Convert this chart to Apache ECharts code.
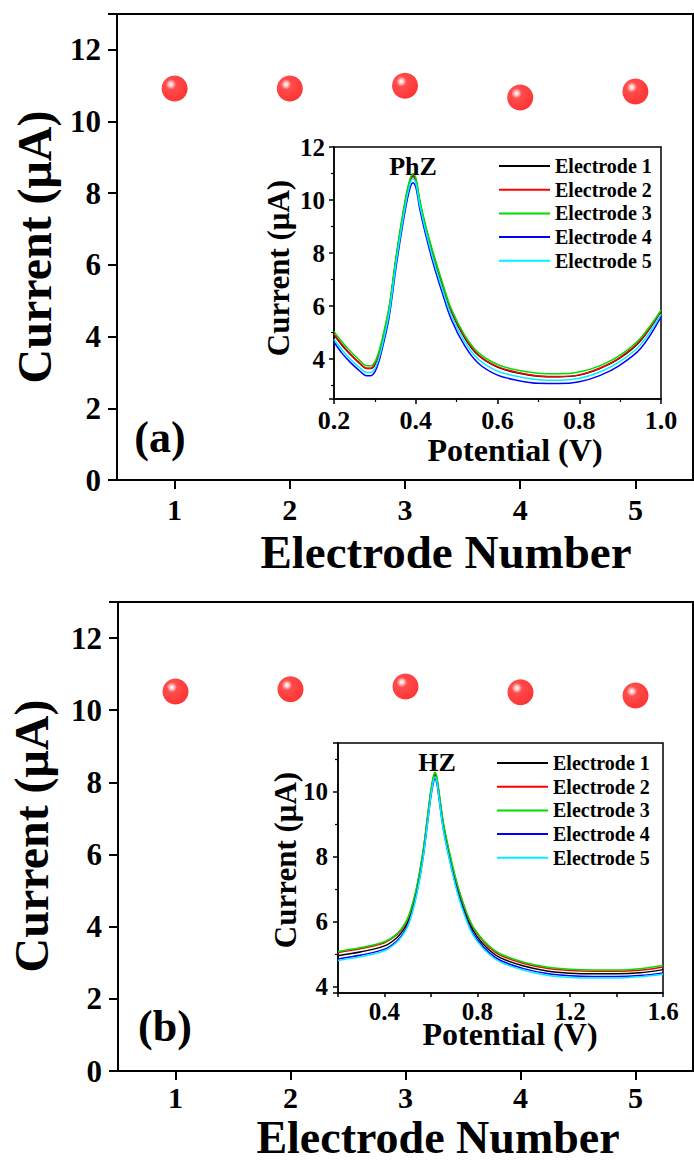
<!DOCTYPE html>
<html>
<head>
<meta charset="utf-8">
<script src="https://cdn.jsdelivr.net/npm/echarts@6/dist/echarts.min.js"></script>
<style>html,body{margin:0;padding:0;background:#fff;}#c{width:694px;height:1161px;}</style>
</head>
<body>
<div id="c"></div>
<script>
// ---- data ----
const electrodes = ['1', '2', '3', '4', '5'];
const peakCurrentA = [10.92, 10.92, 11.0, 10.67, 10.84];   // PhZ
const peakCurrentB = [10.52, 10.58, 10.66, 10.5, 10.41];   // HZ

const seriesNames = ['Electrode 1', 'Electrode 2', 'Electrode 3', 'Electrode 4', 'Electrode 5'];
const seriesColors = ['#000000', '#ff0000', '#00dd00', '#0000ff', '#00f0ff'];

// inset (a) PhZ
const potentialA = [0.20, 0.22, 0.24, 0.26, 0.28, 0.29, 0.30, 0.31, 0.32, 0.335, 0.353, 0.374, 0.385, 0.393, 0.40, 0.41, 0.425, 0.443, 0.465, 0.487, 0.52, 0.553, 0.60, 0.65, 0.70, 0.75, 0.80, 0.85, 0.90, 0.95, 1.00];
const phzE1 = [4.92, 4.52, 4.18, 3.88, 3.65, 3.65, 3.80, 4.20, 4.80, 5.90, 7.90, 9.90, 10.65, 10.90, 10.75, 9.90, 8.90, 7.90, 6.80, 5.80, 4.80, 4.15, 3.70, 3.48, 3.36, 3.34, 3.40, 3.65, 4.05, 4.70, 5.80];
const phzE2 = [4.95, 4.55, 4.20, 3.90, 3.66, 3.66, 3.82, 4.22, 4.82, 5.92, 7.92, 9.92, 10.68, 10.93, 10.78, 9.93, 8.93, 7.93, 6.83, 5.83, 4.83, 4.17, 3.72, 3.50, 3.37, 3.35, 3.41, 3.66, 4.07, 4.72, 5.82];
const phzE3 = [5.05, 4.65, 4.30, 4.00, 3.75, 3.75, 3.90, 4.30, 4.90, 6.00, 8.00, 10.00, 10.75, 11.00, 10.85, 10.00, 9.00, 8.00, 6.90, 5.90, 4.90, 4.25, 3.80, 3.58, 3.47, 3.45, 3.52, 3.75, 4.15, 4.80, 5.85];
const phzE4 = [4.65, 4.22, 3.88, 3.60, 3.38, 3.38, 3.52, 3.92, 4.52, 5.60, 7.60, 9.60, 10.40, 10.65, 10.50, 9.65, 8.65, 7.60, 6.50, 5.50, 4.50, 3.85, 3.40, 3.20, 3.09, 3.08, 3.15, 3.38, 3.78, 4.40, 5.60];
const phzE5 = [4.75, 4.35, 4.00, 3.72, 3.50, 3.50, 3.65, 4.05, 4.65, 5.75, 7.75, 9.75, 10.55, 10.80, 10.65, 9.80, 8.80, 7.75, 6.65, 5.65, 4.65, 4.00, 3.55, 3.35, 3.23, 3.21, 3.28, 3.52, 3.92, 4.55, 5.70];

// inset (b) HZ
const potentialB = [0.2, 0.3, 0.4, 0.45, 0.48, 0.5, 0.517, 0.54, 0.565, 0.585, 0.599, 0.61, 0.618, 0.626, 0.635, 0.655, 0.686, 0.72, 0.767, 0.8, 0.85, 0.9, 1.0, 1.1, 1.2, 1.3, 1.4, 1.5, 1.6];
const hzE1 = [4.95, 5.07, 5.25, 5.48, 5.73, 5.98, 6.33, 7.00, 8.00, 9.10, 9.90, 10.35, 10.50, 10.35, 9.90, 8.90, 7.85, 6.90, 5.95, 5.53, 5.13, 4.88, 4.63, 4.48, 4.41, 4.39, 4.39, 4.42, 4.52];
const hzE2 = [5.05, 5.17, 5.35, 5.57, 5.82, 6.07, 6.42, 7.07, 8.07, 9.16, 9.96, 10.40, 10.55, 10.40, 9.96, 8.97, 7.92, 6.97, 6.02, 5.62, 5.21, 4.96, 4.71, 4.56, 4.49, 4.47, 4.47, 4.50, 4.60];
const hzE3 = [5.08, 5.20, 5.38, 5.60, 5.85, 6.10, 6.45, 7.10, 8.10, 9.20, 10.00, 10.45, 10.60, 10.45, 10.00, 9.00, 7.95, 7.00, 6.05, 5.65, 5.25, 5.00, 4.75, 4.60, 4.53, 4.51, 4.51, 4.55, 4.65];
const hzE4 = [4.85, 4.97, 5.15, 5.38, 5.63, 5.88, 6.23, 6.90, 7.90, 9.00, 9.80, 10.25, 10.40, 10.25, 9.80, 8.80, 7.75, 6.80, 5.85, 5.45, 5.05, 4.80, 4.55, 4.40, 4.33, 4.31, 4.31, 4.34, 4.42];
const hzE5 = [4.80, 4.92, 5.10, 5.34, 5.59, 5.85, 6.20, 6.87, 7.88, 9.00, 9.82, 10.30, 10.45, 10.30, 9.82, 8.78, 7.72, 6.74, 5.79, 5.39, 5.00, 4.75, 4.50, 4.35, 4.28, 4.26, 4.26, 4.30, 4.38];

const mainYTicks = [0, 2, 4, 6, 8, 10, 12];

// ---- build ----
const FF = '"Liberation Serif", "Times New Roman", Times, serif';
const pairs = (xs, ys) => xs.map((x, i) => [x, ys[i]]);
const markerGradient = {
  type: 'radial', x: 0.36, y: 0.34, r: 0.7,
  colorStops: [
    { offset: 0, color: '#ffffff' },
    { offset: 0.1, color: '#ffc8c8' },
    { offset: 0.28, color: '#ff2020' },
    { offset: 1, color: '#ff0000' }
  ]
};

function mainY(gi) {
  return {
    type: 'value', gridIndex: gi, min: 0, max: 13, interval: 2,
    axisLine: { show: true, lineStyle: { color: '#000', width: 2 } },
    axisTick: { show: true, length: 9, lineStyle: { color: '#000', width: 2 } },
    splitLine: { show: false },
    axisLabel: {
      margin: 16, color: '#000', fontFamily: FF, fontWeight: 'bold', fontSize: 31,
      formatter: v => (mainYTicks.indexOf(v) >= 0 ? String(v) : '')
    }
  };
}
function mainX(gi, margin) {
  return {
    type: 'category', gridIndex: gi, data: electrodes, boundaryGap: true,
    axisLine: { show: true, lineStyle: { color: '#000', width: 2 } },
    axisTick: { show: true, alignWithLabel: true, length: 9, lineStyle: { color: '#000', width: 2 } },
    splitLine: { show: false },
    axisLabel: { margin: margin, color: '#000', fontFamily: FF, fontWeight: 'bold', fontSize: 30 }
  };
}
function insetY(gi, min, max, margin) {
  return {
    type: 'value', gridIndex: gi, min: min, max: max, splitNumber: 5,
    axisLine: { show: true, lineStyle: { color: '#000', width: 1.5 } },
    axisTick: { show: true, length: 5, lineStyle: { color: '#000', width: 1.5 } },
    minorTick: { show: true, splitNumber: 2, length: 3, lineStyle: { color: '#000', width: 1.2 } },
    splitLine: { show: false }, minorSplitLine: { show: false },
    axisLabel: {
      margin: margin, color: '#000', fontFamily: FF, fontWeight: 'bold', fontSize: 25,
      formatter: v => (Math.abs(v - Math.round(v)) < 1e-6 && Math.round(v) % 2 === 0 ? String(Math.round(v)) : '')
    }
  };
}
function lineSeries(xi, xs, arrs) {
  return arrs.map((ys, i) => ({
    type: 'line', name: seriesNames[i], xAxisIndex: xi, yAxisIndex: xi,
    data: pairs(xs, ys), symbol: 'none', showSymbol: false,
    smooth: 0.35,
    lineStyle: { color: seriesColors[i], width: 1.5 },
    itemStyle: { color: seriesColors[i] },
    emphasis: { disabled: true }, z: 3
  }));
}
function legendAt(left, top) {
  return {
    orient: 'vertical', left: left, top: top, padding: 0,
    icon: 'rect', itemWidth: 51, itemHeight: 2, itemGap: 3.7,
    data: seriesNames, selectedMode: false,
    textStyle: { color: '#000', fontFamily: FF, fontWeight: 'bold', fontSize: 20, lineHeight: 20 }
  };
}
function txt(text, x, y, size, rot) {
  return {
    type: 'text', x: x, y: y, rotation: rot || 0, silent: true, z: 10,
    style: { text: text, fill: '#000', fontFamily: FF, fontWeight: 'bold', fontSize: size, align: 'center', verticalAlign: 'middle' }
  };
}

const chart = echarts.init(document.getElementById('c'), null, { renderer: 'svg', width: 694, height: 1161 });
chart.setOption({
  animation: false,
  backgroundColor: '#fff',
  grid: [
    { left: 117, top: 14, width: 576, height: 466, show: true, borderColor: '#000', borderWidth: 2, backgroundColor: 'transparent', outerBoundsMode: 'none', containLabel: false },
    { left: 334, top: 147, width: 327, height: 252, show: true, borderColor: '#000', borderWidth: 1.5, backgroundColor: 'transparent', outerBoundsMode: 'none', containLabel: false },
    { left: 118, top: 602, width: 575, height: 469, show: true, borderColor: '#000', borderWidth: 2, backgroundColor: 'transparent', outerBoundsMode: 'none', containLabel: false },
    { left: 338, top: 743, width: 325, height: 250, show: true, borderColor: '#000', borderWidth: 1.5, backgroundColor: 'transparent', outerBoundsMode: 'none', containLabel: false }
  ],
  xAxis: [
    mainX(0, 14),
    {
      type: 'value', gridIndex: 1, min: 0.2, max: 1.0, interval: 0.2,
      axisLine: { show: true, lineStyle: { color: '#000', width: 1.5 } },
      axisTick: { show: true, length: 5, lineStyle: { color: '#000', width: 1.5 } },
      minorTick: { show: true, splitNumber: 2, length: 3, lineStyle: { color: '#000', width: 1.2 } },
      splitLine: { show: false }, minorSplitLine: { show: false },
      axisLabel: { margin: 8, color: '#000', fontFamily: FF, fontWeight: 'bold', fontSize: 26, formatter: v => v.toFixed(1) }
    },
    mainX(2, 11),
    {
      type: 'value', gridIndex: 3, min: 0.2, max: 1.6, interval: 0.2,
      axisLine: { show: true, lineStyle: { color: '#000', width: 1.5 } },
      axisTick: { show: true, length: 4, lineStyle: { color: '#000', width: 1.5 } },
      splitLine: { show: false },
      axisLabel: {
        margin: 6, color: '#000', fontFamily: FF, fontWeight: 'bold', fontSize: 25,
        formatter: v => (Math.round(v * 10) % 4 === 0 && v > 0.3 ? v.toFixed(1) : '')
      }
    }
  ],
  yAxis: [
    mainY(0),
    insetY(1, 2.5, 12, 9),
    mainY(2),
    insetY(3, 3.8, 11.5, 10)
  ],
  legend: [legendAt(499, 156), legendAt(497, 753)],
  series: [
    {
      type: 'scatter', name: 'PhZ peak', xAxisIndex: 0, yAxisIndex: 0, data: peakCurrentA,
      symbol: 'circle', symbolSize: 26, itemStyle: { color: markerGradient }, emphasis: { disabled: true }, z: 4
    },
    {
      type: 'scatter', name: 'HZ peak', xAxisIndex: 2, yAxisIndex: 2, data: peakCurrentB,
      symbol: 'circle', symbolSize: 26, itemStyle: { color: markerGradient }, emphasis: { disabled: true }, z: 4
    }
  ].concat(lineSeries(1, potentialA, [phzE1, phzE2, phzE3, phzE4, phzE5]))
   .concat(lineSeries(3, potentialB, [hzE1, hzE2, hzE3, hzE4, hzE5])),
  graphic: [
    txt('Current (\u03bcA)', 34, 247, 48, Math.PI / 2),
    txt('Electrode Number', 446, 552, 47),
    txt('(a)', 160, 437, 44),
    txt('Current (\u03bcA)', 278, 268, 31, Math.PI / 2),
    txt('Potential (V)', 515, 450, 32),
    txt('PhZ', 413, 166, 26),
    txt('Current (\u03bcA)', 31, 836, 48, Math.PI / 2),
    txt('Electrode Number', 438, 1137, 46),
    txt('(b)', 165, 1026, 44),
    txt('Current (\u03bcA)', 285, 860, 31, Math.PI / 2),
    txt('Potential (V)', 510, 1034, 32),
    txt('HZ', 437, 762, 26)
  ]
});
</script>
</body>
</html>
